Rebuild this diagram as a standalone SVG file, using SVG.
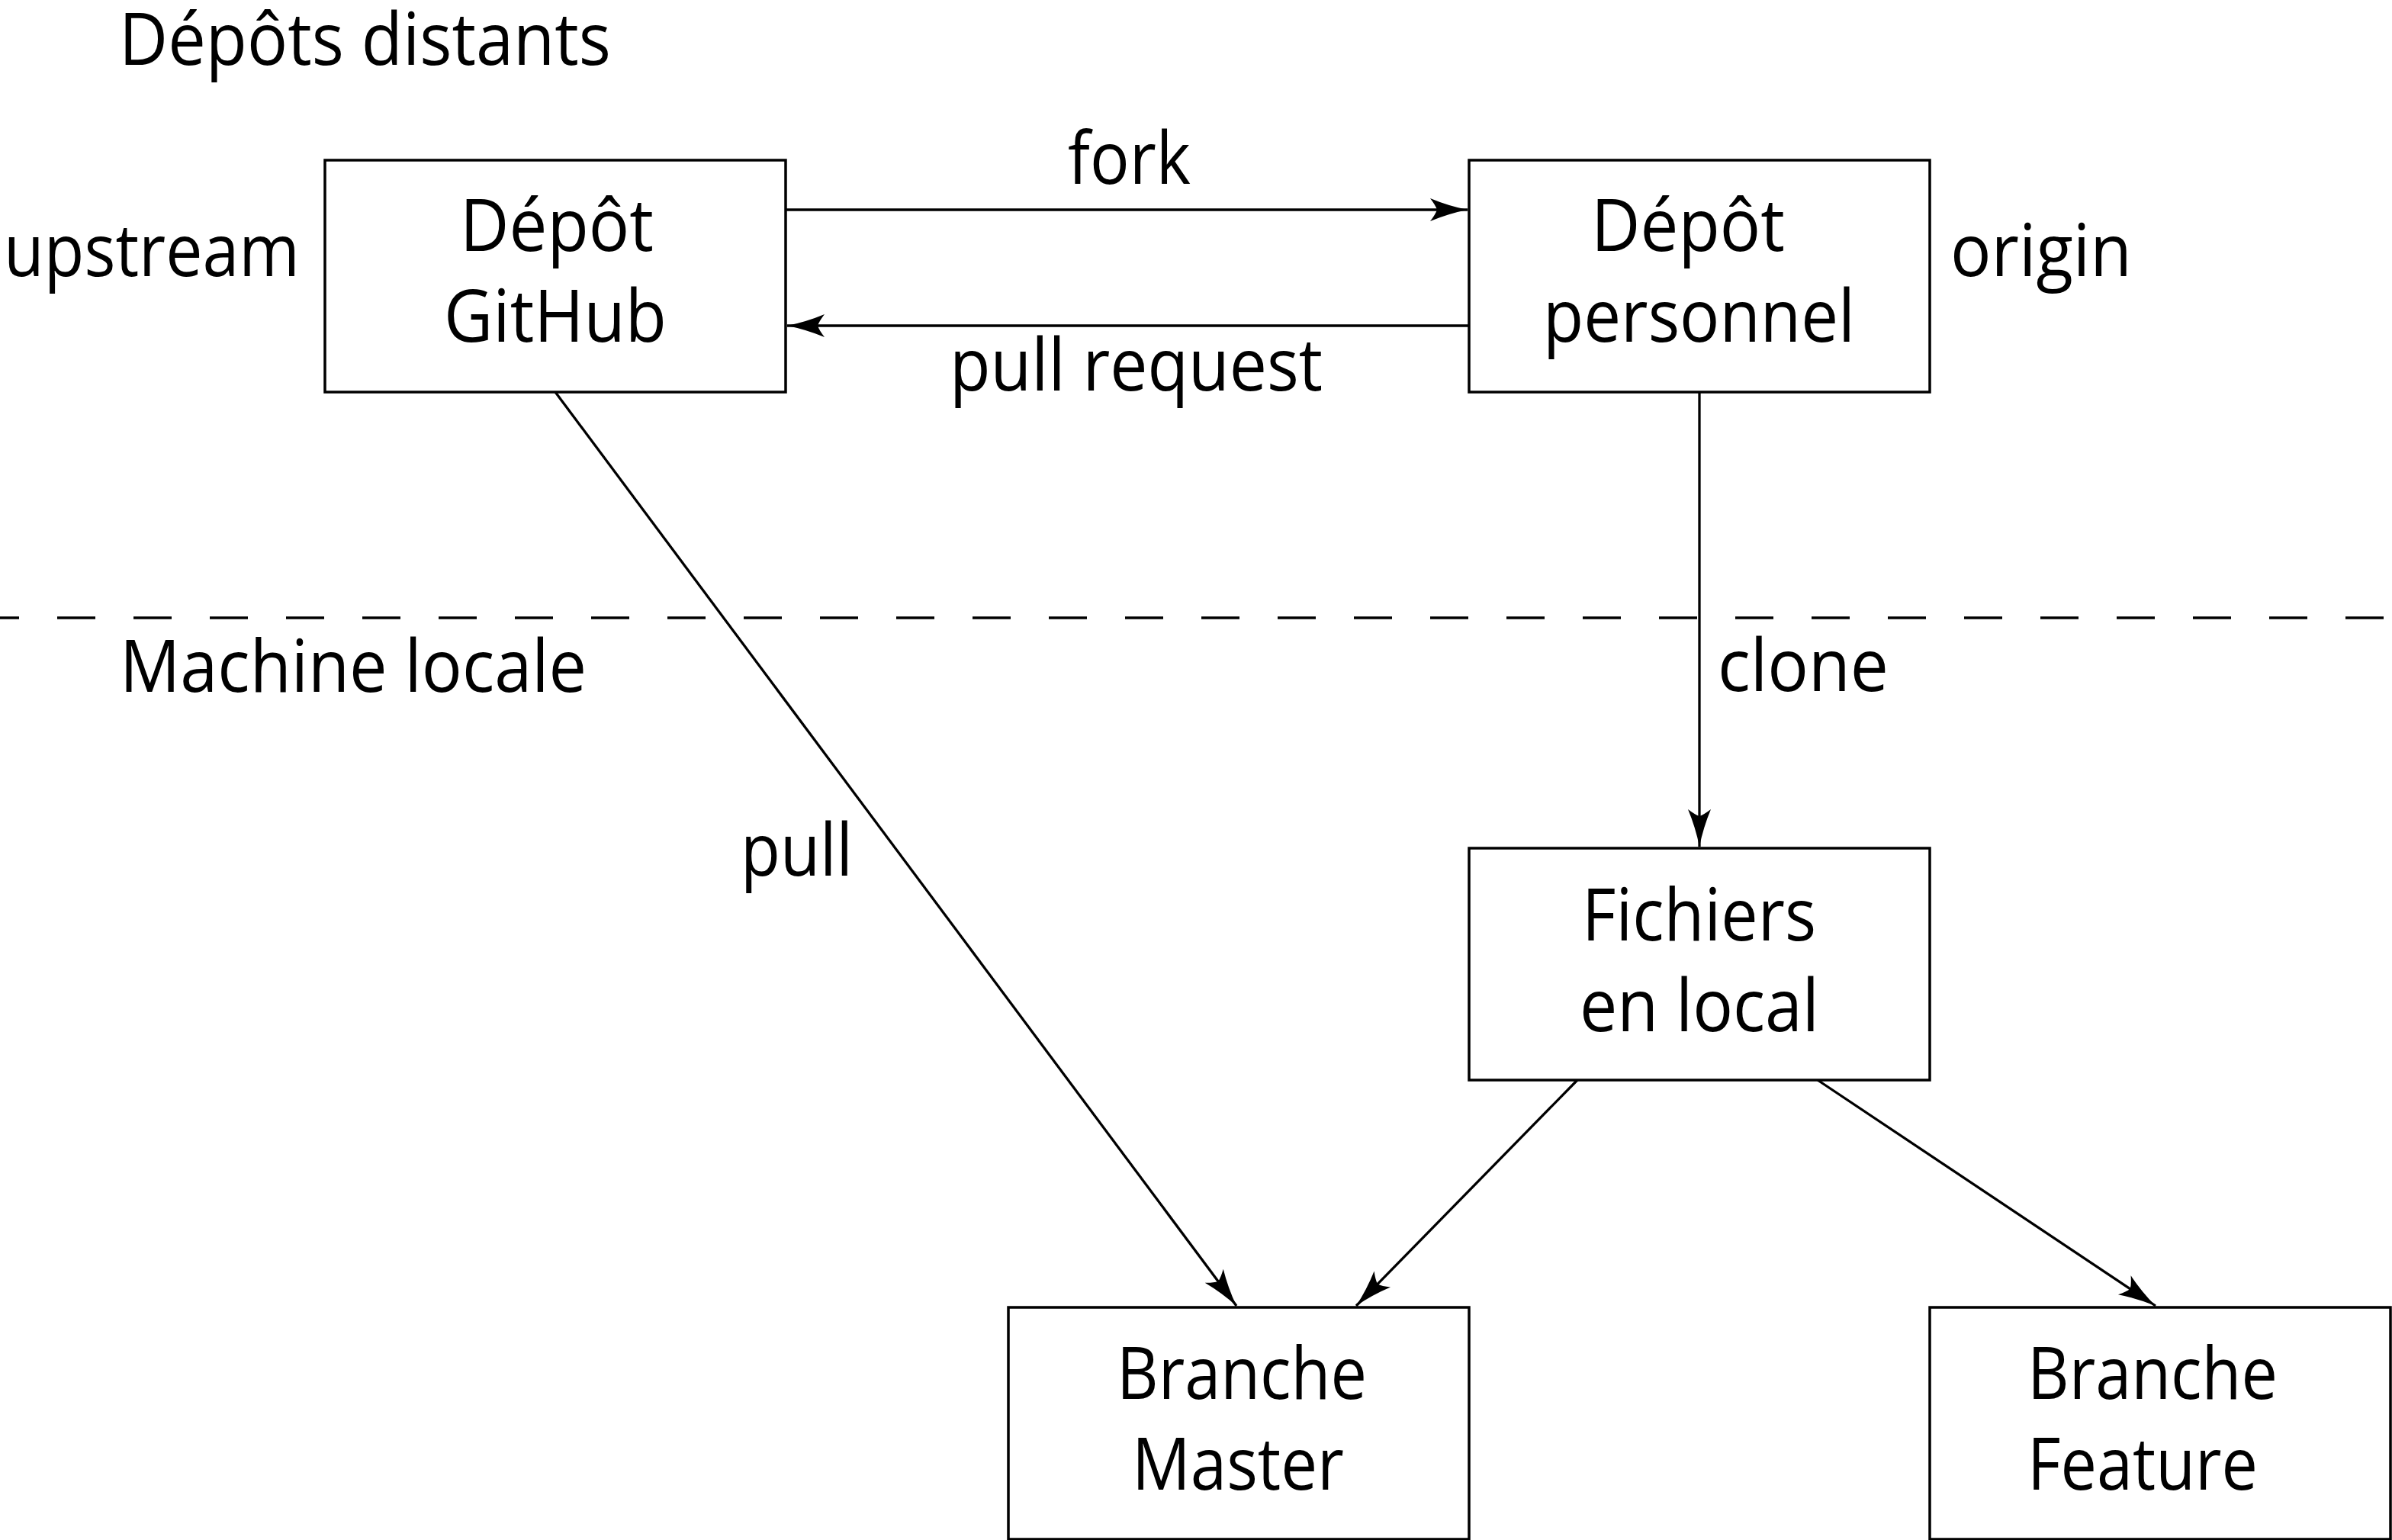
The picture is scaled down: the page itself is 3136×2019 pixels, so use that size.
<svg xmlns="http://www.w3.org/2000/svg" width="3136" height="2019" viewBox="0 0 3136 2019">
<style>
text{font-family:"Open Sans","Noto Sans","Liberation Sans",sans-serif;font-size:95px;fill:#000}
.box{fill:#fff;stroke:#000;stroke-width:3.5}
.edge{fill:none;stroke:#000;stroke-width:3.3}
.dash{fill:none;stroke:#000;stroke-width:3.5;stroke-dasharray:50 50}
</style>
<defs>
<marker id="arr" markerUnits="userSpaceOnUse" orient="auto" markerWidth="60" markerHeight="40" viewBox="-52 -20 60 40" refX="0" refY="0" overflow="visible">
<path d="M0,0 Q-25,-5 -49,-15 Q-42,-6 -40,0 Q-42,6 -49,15 Q-25,5 0,0 Z" fill="#000"/>
</marker>
</defs>
<rect width="3136" height="2019" fill="#fff"/>
<g id="labels">
<text x="156" y="85" textLength="645" lengthAdjust="spacingAndGlyphs">Dépôts distants</text>
<text x="5" y="362" textLength="388" lengthAdjust="spacingAndGlyphs">upstream</text>
<text x="2557" y="362" textLength="238" lengthAdjust="spacingAndGlyphs">origin</text>
<text x="157" y="907" textLength="612" lengthAdjust="spacingAndGlyphs">Machine locale</text>
</g>
<line class="dash" x1="-25" y1="810" x2="3136" y2="810"/>
<g id="connectors">
<line class="edge" x1="1030" y1="275" x2="1924" y2="275" marker-end="url(#arr)"/>
<line class="edge" x1="1926" y1="427" x2="1032" y2="427" marker-end="url(#arr)"/>
<line class="edge" x1="2228" y1="514" x2="2228" y2="1110" marker-end="url(#arr)"/>
<line class="edge" x1="728" y1="514" x2="1621" y2="1712" marker-end="url(#arr)"/>
<line class="edge" x1="2068" y1="1416" x2="1778" y2="1712" marker-end="url(#arr)"/>
<line class="edge" x1="2383" y1="1416" x2="2826" y2="1712" marker-end="url(#arr)"/>
<text x="1400" y="241" textLength="161" lengthAdjust="spacingAndGlyphs">fork</text>
<text x="1245" y="512" textLength="489" lengthAdjust="spacingAndGlyphs">pull request</text>
<text x="2252" y="906" textLength="224" lengthAdjust="spacingAndGlyphs">clone</text>
<text x="971" y="1148" textLength="147" lengthAdjust="spacingAndGlyphs">pull</text>
</g>
<g id="node-github">
<rect class="box" x="426" y="210" width="604" height="304"/>
<text x="603" y="329" textLength="254" lengthAdjust="spacingAndGlyphs">Dépôt</text>
<text x="582" y="448" textLength="292" lengthAdjust="spacingAndGlyphs">GitHub</text>
</g>
<g id="node-personnel">
<rect class="box" x="1926" y="210" width="604" height="304"/>
<text x="2086" y="329" textLength="254" lengthAdjust="spacingAndGlyphs">Dépôt</text>
<text x="2023" y="448" textLength="409" lengthAdjust="spacingAndGlyphs">personnel</text>
</g>
<g id="node-fichiers">
<rect class="box" x="1926" y="1112" width="604" height="304"/>
<text x="2074" y="1233" textLength="307" lengthAdjust="spacingAndGlyphs">Fichiers</text>
<text x="2071" y="1352" textLength="314" lengthAdjust="spacingAndGlyphs">en local</text>
</g>
<g id="node-master">
<rect class="box" x="1322" y="1714" width="604" height="304"/>
<text x="1464" y="1834" textLength="328" lengthAdjust="spacingAndGlyphs">Branche</text>
<text x="1484" y="1953" textLength="278" lengthAdjust="spacingAndGlyphs">Master</text>
</g>
<g id="node-feature">
<rect class="box" x="2530" y="1714" width="604" height="304"/>
<text x="2658" y="1834" textLength="328" lengthAdjust="spacingAndGlyphs">Branche</text>
<text x="2658" y="1953" textLength="302" lengthAdjust="spacingAndGlyphs">Feature</text>
</g>
</svg>
